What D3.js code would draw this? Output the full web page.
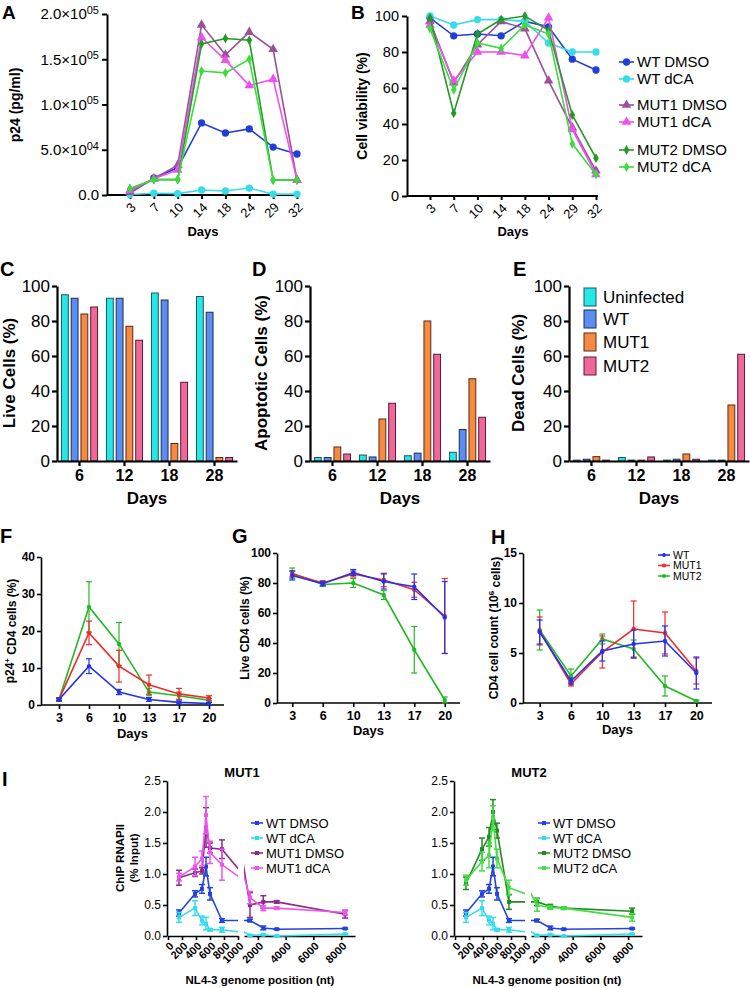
<!DOCTYPE html>
<html>
<head>
<meta charset="utf-8">
<script src="https://cdn.jsdelivr.net/npm/d3@7"></script>
<style>
body{margin:0;background:#fff}
svg{display:block}
text{font-family:"Liberation Sans",Arial,Helvetica,sans-serif;fill:#000}
</style>
</head>
<body>
<script>
// ---------- data ----------
// A / B : p24 and viability over days
var daysAB = ["3","7","10","14","18","24","29","32"];
var p24WtDmso   = [2000, 18800, 30000, 79600, 68500, 73000, 53000, 45300];
var p24WtDca    = [500, 2000, 1500, 5500, 4400, 7700, 1000, 1000];
var p24Mut1Dmso = [3000, 18000, 33000, 188000, 155000, 180000, 161000, 16500];
var p24Mut1Dca  = [5000, 18000, 27600, 174000, 149000, 121000, 128000, 16500];
var p24Mut2Dmso = [7000, 17000, 17000, 167000, 173000, 171000, 16500, 16500];
var p24Mut2Dca  = [7000, 17000, 17000, 137000, 135000, 150000, 16500, 16500];

var viaWtDmso   = [99, 89, 90, 89, 97, 94, 76, 70];
var viaWtDca    = [100, 95, 98, 98, 97, 85, 80, 80];
var viaMut1Dmso = [97, 63, 84, 97, 93, 64, 38, 14];
var viaMut1Dca  = [95, 64, 80, 80, 78, 99, 37, 12];
var viaMut2Dmso = [99, 46, 90, 98, 100, 92, 45, 21];
var viaMut2Dca  = [93, 59, 85, 82, 95, 90, 29, 12];

var abNames = ["WT DMSO","WT dCA","MUT1 DMSO","MUT1 dCA","MUT2 DMSO","MUT2 dCA"];

// C / D / E : bar charts
var barDays = ["6","12","18","28"];
var barGroups = ["Uninfected","WT","MUT1","MUT2"];
var liveUninf = [95, 93, 96, 94];
var liveWt    = [93, 93, 92, 85];
var liveMut1  = [84, 77, 10, 2];
var liveMut2  = [88, 69, 45, 2];
var apoUninf  = [2, 3.4, 3, 5];
var apoWt     = [2, 2.3, 4.5, 18];
var apoMut1   = [8, 24, 80, 47];
var apoMut2   = [4, 33, 61, 25];
var deadUninf = [0.5, 2, 0.5, 0.5];
var deadWt    = [1, 0.5, 1, 0.5];
var deadMut1  = [2.5, 0.5, 4, 32];
var deadMut2  = [0.5, 2.3, 1, 61];

// F / G / H : mean +/- error over days
var cdDays = ["3","6","10","13","17","20"];
var fWt = [1.5, 10.5, 3.5, 1.5, 0.7, 0.4],  fWtErr = [0.3, 2, 0.7, 0.5, 0.4, 0.3];
var fMut1 = [1.5, 19.5, 10.5, 5.5, 3, 1.9], fMut1Err = [0.5, 3.2, 4.3, 2.6, 1.5, 0.6];
var fMut2 = [1.5, 26.5, 16.5, 3.5, 2.5, 1.3], fMut2Err = [0.5, 6.8, 5.8, 1, 1, 0.5];
var gWt = [85, 79.5, 87, 81, 77.5, 57],  gWtErr = [3, 1.5, 2, 5, 8.5, 24];
var gMut1 = [86, 80, 86, 82, 75.5, 58],  gMut1Err = [2, 1.5, 2, 4.5, 5, 25];
var gMut2 = [86.5, 79, 80, 72, 35.5, 2], gMut2Err = [3.5, 1, 3, 3, 15.5, 2];
var hWt = [7.1, 2.2, 5.2, 5.9, 6.2, 3.0],  hWtErr = [1.2, 0.3, 1.0, 1.4, 1.5, 1.6];
var hMut1 = [7.2, 1.9, 5.1, 7.4, 7.0, 3.2], hMut1Err = [1.4, 0.2, 1.6, 2.8, 2.1, 1.3];
var hMut2 = [7.3, 2.7, 6.4, 5.4, 1.7, 0.2], hMut2Err = [2.0, 0.7, 0.5, 0.9, 1.0, 0.1];

// I : ChIP along the genome
var chipPos = [157, 386, 486, 543, 600, 771, 1430, 2390, 3360, 8290];
var chipWtDmso = [0.37, 0.68, 0.76, 1.12, 0.68, 0.25, 0.25, 0.13, 0.11, 0.12];
var chipWtDmsoErr = [0.05, 0.05, 0.07, 0.15, 0.1, 0.03, 0.02, 0.03, 0.01, 0.01];
var chipWtDca = [0.3, 0.45, 0.25, 0.2, 0.1, 0.1, 0.01, 0.02, 0.0, 0.03];
var chipWtDcaErr = [0.08, 0.12, 0.07, 0.1, 0.02, 0.04, 0.01, 0.01, 0.0, 0.01];
var chipMut1Dmso = [0.94, 1.02, 1.05, 1.75, 1.42, 1.4, 0.5, 0.55, 0.55, 0.35];
var chipMut1DmsoErr = [0.12, 0.06, 0.05, 0.32, 0.08, 0.15, 0.2, 0.1, 0.02, 0.06];
var chipMut1Dca = [0.95, 1.12, 1.25, 1.95, 1.35, 1.15, 0.62, 0.45, 0.45, 0.38];
var chipMut1DcaErr = [0.06, 0.15, 0.12, 0.3, 0.18, 0.25, 0.1, 0.04, 0.02, 0.04];
var chipMut2Dmso = [0.85, 1.4, 1.6, 2.0, 1.7, 0.55, 0.55, 0.48, 0.45, 0.4];
var chipMut2DmsoErr = [0.1, 0.18, 0.15, 0.2, 0.12, 0.12, 0.06, 0.03, 0.02, 0.05];
var chipMut2Dca = [0.9, 1.2, 1.3, 1.9, 1.25, 0.78, 0.5, 0.46, 0.45, 0.3];
var chipMut2DcaErr = [0.08, 0.15, 0.2, 0.2, 0.15, 0.12, 0.1, 0.03, 0.02, 0.06];

// ---------- drawing ----------
var svg = d3.select("body").append("svg").attr("width", 750).attr("height", 988);

var cBlue = "#1f3fd6", cCyan = "#38dbe8", cPurple = "#9b4f9d", cMagenta = "#f04ef0",
    cDkGreen = "#239a23", cLtGreen = "#3ddc3d";

function txt(x, y, s, size, weight, anchor, rot) {
  var t = svg.append("text").attr("x", x).attr("y", y).text(s)
    .attr("font-size", size).attr("font-weight", weight || "normal")
    .attr("text-anchor", anchor || "start");
  if (rot) t.attr("transform", "rotate(" + rot + "," + x + "," + y + ")");
  return t;
}

function styleAxis(g, sw, fs, fw) {
  g.select(".domain").attr("stroke-width", sw).attr("stroke", "#000");
  g.selectAll(".tick line").attr("stroke-width", sw).attr("stroke", "#000");
  g.selectAll(".tick text").attr("font-size", fs).attr("font-weight", fw || "normal");
}

function rotLabels(g, dx, dy) {
  g.selectAll(".tick text").attr("x", 0).attr("y", 0).attr("dy", "0.35em")
    .attr("text-anchor", "end")
    .attr("transform", "translate(" + dx + "," + dy + ") rotate(-45)");
}

// ---- A and B ----
var abShapes = [d3.symbolCircle, d3.symbolCircle, d3.symbolTriangle, d3.symbolTriangle, d3.symbolDiamond, d3.symbolDiamond];
var abSizes = [42, 42, 40, 40, 28, 28];
var abColors = [cBlue, cCyan, cPurple, cMagenta, cDkGreen, cLtGreen];

function lineChart(cfg) {
  var x = d3.scalePoint(daysAB, cfg.xr);
  var y = d3.scaleLinear(cfg.yd, cfg.yr);
  var g = svg.append("g");
  var ya = g.append("g").attr("transform", "translate(" + cfg.ax + ",0)")
    .call(d3.axisLeft(y).tickValues(cfg.yticks).tickSize(5).tickSizeOuter(0).tickPadding(3));
  styleAxis(ya, 2, cfg.yfs);
  if (cfg.supFmt) {
    ya.selectAll(".tick text").each(function (d) {
      var t = d3.select(this).text(null);
      if (d === 0) { t.text("0.0"); return; }
      var e = Math.floor(Math.log10(d));
      t.append("tspan").text((d / Math.pow(10, e)).toFixed(1) + "\u00d710");
      t.append("tspan").attr("dy", "-0.5em").attr("font-size", 11).text(String(e).padStart(2, "0"));
    });
  }
  var xa = g.append("g").attr("transform", "translate(0," + cfg.yr[0] + ")")
    .call(d3.axisBottom(x).tickSize(4).tickSizeOuter(0));
  styleAxis(xa, 2, 13);
  xa.select(".domain").attr("d", "M" + cfg.ax + ",0H" + cfg.xEnd);
  rotLabels(xa, 3, 10);
  cfg.series.forEach(function (vals, i) {
    g.append("path").datum(vals)
      .attr("fill", "none").attr("stroke", abColors[i]).attr("stroke-width", 1.6)
      .attr("d", d3.line().x(function (d, j) { return x(daysAB[j]); }).y(function (d) { return y(d); }));
    g.selectAll(null).data(vals).enter().append("path")
      .attr("transform", function (d, j) { return "translate(" + x(daysAB[j]) + "," + y(d) + ")"; })
      .attr("d", d3.symbol().type(abShapes[i]).size(abSizes[i])())
      .attr("fill", abColors[i]);
  });
}

lineChart({xr: [130, 297], ax: 107, xEnd: 300, yd: [0, 200000], yr: [195, 14],
  yticks: [0, 50000, 100000, 150000, 200000], yfs: 15, supFmt: true,
  series: [p24WtDmso, p24WtDca, p24Mut1Dmso, p24Mut1Dca, p24Mut2Dmso, p24Mut2Dca]});
lineChart({xr: [430, 596], ax: 407, xEnd: 598, yd: [0, 100], yr: [196, 16],
  yticks: [0, 20, 40, 60, 80, 100], yfs: 14.5,
  series: [viaWtDmso, viaWtDca, viaMut1Dmso, viaMut1Dca, viaMut2Dmso, viaMut2Dca]});

txt(2, 19, "A", 19, "bold");
txt(351, 19, "B", 19, "bold");
txt(20, 105, "p24 (pg/ml)", 14, "bold", "middle", -90);
txt(367, 106, "Cell viability (%)", 14, "bold", "middle", -90);
txt(203, 236, "Days", 13, "bold", "middle");
txt(513, 236, "Days", 13, "bold", "middle");

// legend A/B
var abLegY = [62, 79, 105, 122, 150, 167];
abNames.forEach(function (n, i) {
  svg.append("line").attr("x1", 619).attr("x2", 634).attr("y1", abLegY[i]).attr("y2", abLegY[i])
    .attr("stroke", abColors[i]).attr("stroke-width", 1.6);
  svg.append("path").attr("transform", "translate(626.5," + abLegY[i] + ")")
    .attr("d", d3.symbol().type(abShapes[i]).size(abSizes[i])()).attr("fill", abColors[i]);
  txt(637, abLegY[i] + 5, n, 15);
});

// ---- C, D, E ----
var barColors = ["#27e6e6", "#5b8ef0", "#f58a45", "#f0689a"];
var barStroke = ["#1b5b5b", "#1d2d55", "#5a2a10", "#5a1a30"];

function barChart(cfg) {
  var x0 = d3.scaleBand(barDays, [cfg.ax, cfg.ax + 180]);
  var x1 = d3.scaleBand(barGroups, [3, 42]).paddingInner(0.3).paddingOuter(0.15);
  var y = d3.scaleLinear([0, 100], [461, 286]);
  var g = svg.append("g");
  cfg.series.forEach(function (vals, i) {
    g.selectAll(null).data(vals).enter().append("rect")
      .attr("x", function (d, j) { return x0(barDays[j]) + x1(barGroups[i]); })
      .attr("width", x1.bandwidth())
      .attr("y", function (d) { return y(d); })
      .attr("height", function (d) { return y(0) - y(d); })
      .attr("fill", barColors[i]).attr("stroke", barStroke[i]).attr("stroke-width", 1);
  });
  var ya = g.append("g").attr("transform", "translate(" + cfg.ax + ",0)")
    .call(d3.axisLeft(y).tickValues([0, 20, 40, 60, 80, 100]).tickSize(5).tickSizeOuter(0).tickPadding(2));
  styleAxis(ya, 2.2, 17);
  var xa = g.append("g").attr("transform", "translate(0," + y(0) + ")")
    .call(d3.axisBottom(x0).tickSize(5).tickSizeOuter(0).tickPadding(4));
  styleAxis(xa, 2.2, 16, "bold");
  txt(cfg.ax + 90, 504, "Days", 17, "bold", "middle");
  txt(cfg.lx, 373, cfg.title, 17, "bold", "middle", -90);
}

barChart({ax: 57, lx: 15, title: "Live Cells (%)", series: [liveUninf, liveWt, liveMut1, liveMut2]});
barChart({ax: 310, lx: 267, title: "Apoptotic Cells (%)", series: [apoUninf, apoWt, apoMut1, apoMut2]});
barChart({ax: 569, lx: 524, title: "Dead Cells (%)", series: [deadUninf, deadWt, deadMut1, deadMut2]});
txt(0, 276, "C", 20, "bold");
txt(252, 276, "D", 20, "bold");
txt(513, 276, "E", 20, "bold");

var barLegY = [297, 319, 342, 366];
barGroups.forEach(function (n, i) {
  svg.append("rect").attr("x", 584).attr("y", barLegY[i] - 9).attr("width", 12).attr("height", 18)
    .attr("fill", barColors[i]).attr("stroke", barStroke[i]).attr("stroke-width", 1);
  txt(603, barLegY[i] + 6, n, 17);
});

// ---- F, G, H ----
var cdColors = ["#25b825", "#ee2a2a", "#2233ee"];

function errChart(cfg) {
  var x = d3.scalePoint(cdDays, cfg.xr).padding(0.5);
  var y = d3.scaleLinear(cfg.yd, cfg.yr);
  var g = svg.append("g");
  var ya = g.append("g").attr("transform", "translate(" + cfg.ax + ",0)")
    .call(d3.axisLeft(y).tickValues(cfg.yticks).tickSize(4).tickSizeOuter(0).tickPadding(2));
  styleAxis(ya, 1.6, 12, "bold");
  var xa = g.append("g").attr("transform", "translate(0," + cfg.yr[0] + ")")
    .call(d3.axisBottom(x).tickSize(4).tickSizeOuter(0).tickPadding(4));
  styleAxis(xa, 1.6, 12.5, "bold");
  xa.select(".domain").attr("d", "M" + cfg.ax + ",0H" + cfg.xr[1]);
  cfg.series.forEach(function (s, i) {
    var col = cdColors[i];
    var vals = s[0], errs = s[1];
    g.append("path").datum(vals).attr("fill", "none").attr("stroke", col).attr("stroke-width", 1.6)
      .attr("d", d3.line().x(function (d, j) { return x(cdDays[j]); }).y(function (d) { return y(d); }));
    var eb = g.selectAll(null).data(vals).enter().append("g")
      .attr("transform", function (d, j) { return "translate(" + x(cdDays[j]) + ",0)"; });
    eb.append("line").attr("y1", function (d, j) { return y(d + errs[j]); })
      .attr("y2", function (d, j) { return y(Math.max(cfg.yd[0], d - errs[j])); })
      .attr("stroke", col).attr("stroke-width", 1.2);
    eb.append("line").attr("x1", -3).attr("x2", 3)
      .attr("y1", function (d, j) { return y(d + errs[j]); }).attr("y2", function (d, j) { return y(d + errs[j]); })
      .attr("stroke", col).attr("stroke-width", 1.2);
    eb.append("line").attr("x1", -3).attr("x2", 3)
      .attr("y1", function (d, j) { return y(Math.max(cfg.yd[0], d - errs[j])); })
      .attr("y2", function (d, j) { return y(Math.max(cfg.yd[0], d - errs[j])); })
      .attr("stroke", col).attr("stroke-width", 1.2);
    eb.append("circle").attr("cy", function (d) { return y(d); }).attr("r", 2.2).attr("fill", col);
  });
  txt((cfg.ax + cfg.xr[1]) / 2, cfg.daysY, "Days", 13, "bold", "middle");
}

errChart({ax: 41, xr: [44, 224], yd: [0, 40], yr: [705, 557], yticks: [0, 10, 20, 30, 40], daysY: 738,
  series: [[fMut2, fMut2Err], [fMut1, fMut1Err], [fWt, fWtErr]]});
errChart({ax: 277, xr: [277, 460], yd: [0, 100], yr: [703, 553], yticks: [0, 20, 40, 60, 80, 100], daysY: 735,
  series: [[gMut2, gMut2Err], [gMut1, gMut1Err], [gWt, gWtErr]]});
errChart({ax: 523, xr: [524, 712], yd: [0, 15], yr: [703, 553], yticks: [0, 5, 10, 15], daysY: 734,
  series: [[hMut2, hMut2Err], [hMut1, hMut1Err], [hWt, hWtErr]]});

txt(0, 543, "F", 20, "bold");
txt(232, 543, "G", 20, "bold");
txt(491, 544, "H", 20, "bold");

var fl = txt(14, 631, "", 12, "bold", "middle", -90);
fl.append("tspan").text("p24");
fl.append("tspan").attr("dy", "-0.45em").attr("font-size", 8).text("+");
fl.append("tspan").attr("dy", "0.45em").text(" CD4 cells (%)");
txt(249, 628, "Live CD4 cells (%)", 12, "bold", "middle", -90);
var hl = txt(498, 628, "", 12, "bold", "middle", -90);
hl.append("tspan").text("CD4 cell count (10");
hl.append("tspan").attr("dy", "-0.45em").attr("font-size", 8).text("6");
hl.append("tspan").attr("dy", "0.45em").text(" cells)");

var hLegNames = ["WT", "MUT1", "MUT2"];
var hLegCols = ["#2233ee", "#ee2a2a", "#25b825"];
hLegNames.forEach(function (n, i) {
  var yy = 555 + i * 10.5;
  svg.append("line").attr("x1", 658).attr("x2", 670).attr("y1", yy).attr("y2", yy)
    .attr("stroke", hLegCols[i]).attr("stroke-width", 1.6);
  svg.append("circle").attr("cx", 664).attr("cy", yy).attr("r", 2).attr("fill", hLegCols[i]);
  txt(673, yy + 3.5, n, 10.5);
});

// ---- I ----
function chipChart(cfg) {
  var o = cfg.off;
  var x1 = d3.scaleLinear([0, 1000], [168 + o, 238 + o]);
  var x2 = d3.scaleLinear([1000, 9000], [244 + o, 355 + o]);
  var xp = function (v) { return v <= 1000 ? x1(v) : x2(v); };
  var y = d3.scaleLinear([0, 2.5], [936, 781]);
  var g = svg.append("g");
  var clipId1 = "c1_" + o, clipId2 = "c2_" + o;
  g.append("clipPath").attr("id", clipId1).append("rect")
    .attr("x", x1.range()[0]).attr("y", 700).attr("width", x1.range()[1] - x1.range()[0]).attr("height", 300);
  g.append("clipPath").attr("id", clipId2).append("rect")
    .attr("x", x2.range()[0]).attr("y", 700).attr("width", x2.range()[1] - x2.range()[0]).attr("height", 300);

  var ya = g.append("g").attr("transform", "translate(" + (167 + o) + ",0)")
    .call(d3.axisLeft(y).tickValues([0, 0.5, 1, 1.5, 2, 2.5]).tickFormat(d3.format(".1f")).tickSize(4).tickSizeOuter(0).tickPadding(2));
  styleAxis(ya, 1.6, 12);
  var xa1 = g.append("g").attr("transform", "translate(0,936)")
    .call(d3.axisBottom(x1).tickValues([0, 200, 400, 600, 800, 1000]).tickFormat(d3.format("d")).tickSize(4).tickSizeOuter(0));
  styleAxis(xa1, 1.6, 11, "bold");
  rotLabels(xa1, 3, 8);
  var xa2 = g.append("g").attr("transform", "translate(0,936)")
    .call(d3.axisBottom(x2).tickValues([2000, 4000, 6000, 8000]).tickFormat(d3.format("d")).tickSize(4).tickSizeOuter(0));
  styleAxis(xa2, 1.6, 11, "bold");
  rotLabels(xa2, 3, 8);

  cfg.series.forEach(function (s) {
    var vals = s.v, errs = s.e, col = s.c;
    [[x1, clipId1], [x2, clipId2]].forEach(function (p) {
      g.append("path").datum(vals).attr("clip-path", "url(#" + p[1] + ")")
        .attr("fill", "none").attr("stroke", col).attr("stroke-width", 1.6)
        .attr("d", d3.line().x(function (d, j) { return p[0](chipPos[j]); }).y(function (d) { return y(d); }));
    });
    var eb = g.selectAll(null).data(vals).enter().append("g")
      .attr("transform", function (d, j) { return "translate(" + xp(chipPos[j]) + ",0)"; });
    eb.append("line").attr("y1", function (d, j) { return y(d + errs[j]); })
      .attr("y2", function (d, j) { return y(Math.max(0, d - errs[j])); })
      .attr("stroke", col).attr("stroke-width", 1.5);
    [1, -1].forEach(function (sg) {
      eb.append("line").attr("x1", -3).attr("x2", 3)
        .attr("y1", function (d, j) { return y(Math.max(0, d + sg * errs[j])); })
        .attr("y2", function (d, j) { return y(Math.max(0, d + sg * errs[j])); })
        .attr("stroke", col).attr("stroke-width", 1.5);
    });
    eb.append("rect").attr("x", -2).attr("y", function (d) { return y(d) - 2; })
      .attr("width", 4).attr("height", 4).attr("fill", col);
  });

  txt(242 + o, 777, cfg.title, 13, "bold", "middle");
  txt(260 + o, 984, "NL4-3 genome position (nt)", 11.5, "bold", "middle");
  cfg.series.forEach(function (s, i) {
    var yy = 823 + i * 15;
    svg.append("line").attr("x1", 251 + o).attr("x2", 263 + o).attr("y1", yy).attr("y2", yy)
      .attr("stroke", s.c).attr("stroke-width", 1.6);
    svg.append("rect").attr("x", 255 + o).attr("y", yy - 2).attr("width", 4).attr("height", 4).attr("fill", s.c);
    txt(266 + o, yy + 4.5, s.n, 13);
  });
}

chipChart({off: 0, title: "MUT1", series: [
  {n: "WT DMSO", v: chipWtDmso, e: chipWtDmsoErr, c: "#2244dd"},
  {n: "WT dCA", v: chipWtDca, e: chipWtDcaErr, c: "#33dcee"},
  {n: "MUT1 DMSO", v: chipMut1Dmso, e: chipMut1DmsoErr, c: "#8a2a8a"},
  {n: "MUT1 dCA", v: chipMut1Dca, e: chipMut1DcaErr, c: "#ee55ee"}]});
chipChart({off: 287, title: "MUT2", series: [
  {n: "WT DMSO", v: chipWtDmso, e: chipWtDmsoErr, c: "#2244dd"},
  {n: "WT dCA", v: chipWtDca, e: chipWtDcaErr, c: "#33dcee"},
  {n: "MUT2 DMSO", v: chipMut2Dmso, e: chipMut2DmsoErr, c: "#228b22"},
  {n: "MUT2 dCA", v: chipMut2Dca, e: chipMut2DcaErr, c: "#44dd44"}]});

txt(2, 786, "I", 20, "bold");
txt(124, 858, "ChIP RNAPII", 11.5, "bold", "middle", -90);
txt(138, 858, "(% Input)", 11.5, "bold", "middle", -90);
</script>
</body>
</html>
